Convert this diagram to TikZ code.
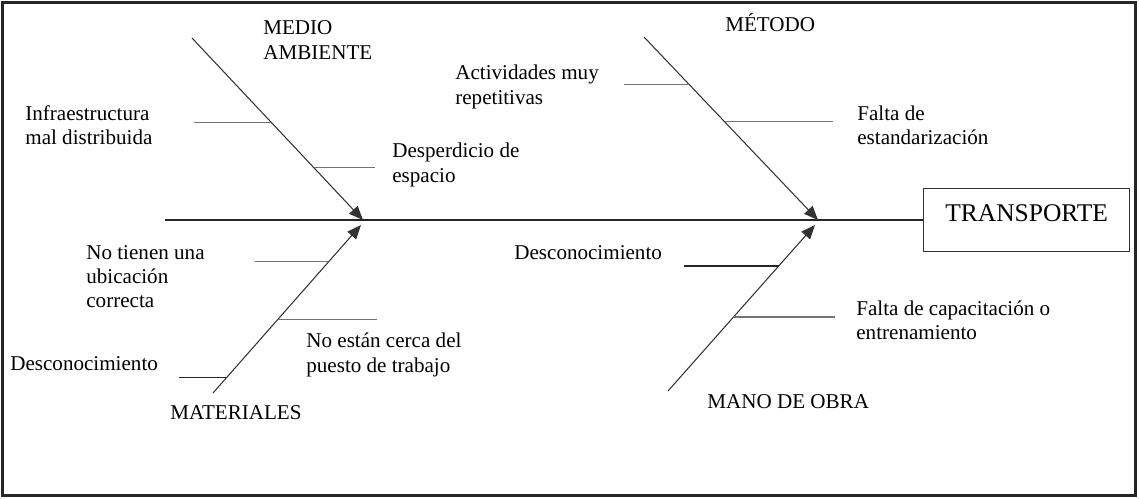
\documentclass[tikz,border=0pt]{standalone}
\usepackage{fontspec}
\setmainfont{Liberation Serif}
\usetikzlibrary{arrows.meta, positioning, calc}

\begin{document}
\begin{tikzpicture}[
    x=0.02cm, y=-0.02cm,
    font=\fontsize{12}{13.8}\selectfont,
    >={Triangle[length=8pt, width=6.5pt]},
    bone/.style={->, draw=black!80, line width=0.6pt},
    twig/.style={draw=black!55, line width=0.6pt},
    cause/.style={anchor=west, inner sep=0pt, align=left},
    category/.style={anchor=west, inner sep=0pt, align=left},
]
\useasboundingbox (0,0) rectangle (1139,498);

% 1. Frame and effect
\draw[line width=2pt, draw=black!85] (2.5,2.5) rectangle (1135.5,495.5);
\node[draw, draw=black!80, line width=0.8pt, inner sep=0pt, minimum width=4.12cm, minimum height=1.26cm,
      text depth=0.28cm, font=\fontsize{14.5}{16}\selectfont, anchor=west] (effect) at (923,220) {TRANSPORTE};

% 2. Spine
\coordinate (spine tail) at (165,220);
\coordinate (head left) at (363,220);
\coordinate (head right) at (818,220);
\draw[line width=0.6pt, draw=black!85] (spine tail) -- (effect.west);

% 3. Medio ambiente (upper left)
\coordinate (ma tail) at (192,38);
\draw[bone] (ma tail) -- (head left);
\node[category] (medio) at (263,40) {MEDIO\\AMBIENTE};
\coordinate (ma1) at ($(ma tail)!0.464!(head left)$);
\coordinate (ma1 end) at (194,122);
\draw[twig] (ma1) -- (ma1 -| ma1 end);
\node[cause] (infra) at (25,125.5) {Infraestructura\\mal distribuida};
\coordinate (ma2) at ($(ma tail)!0.713!(head left)$);
\coordinate (ma2 end) at (375,167);
\draw[twig] (ma2) -- (ma2 -| ma2 end);
\node[cause] (desp) at (392,165) {Desperdicio de\\espacio};

% 4. Materiales (lower left)
\coordinate (mt tail) at (213,393);
\coordinate (mt head) at (361,225);
\draw[bone] (mt tail) -- (mt head);
\node[category] (mater) at (170,413) {MATERIALES};
\coordinate (mt1) at ($(mt tail)!0.78!(mt head)$);
\coordinate (mt1 end) at (255,262);
\draw[twig] (mt1) -- (mt1 -| mt1 end);
\node[cause] (ubic) at (86,276.5) {No tienen una\\ubicación\\correcta};
\coordinate (mt2) at ($(mt tail)!0.44!(mt head)$);
\coordinate (mt2 end) at (377,319);
\draw[twig] (mt2) -- (mt2 -| mt2 end);
\node[cause] (cerca) at (306,355) {No están cerca del\\puesto de trabajo};
\coordinate (mt3) at ($(mt tail)!0.095!(mt head)$);
\coordinate (mt3 end) at (179,377);
\draw[twig, draw=black!85] (mt3) -- (mt3 -| mt3 end);
\node[cause] (desc1) at (10,364) {Desconocimiento};

% 5. Metodo (upper right)
\coordinate (me tail) at (644,37);
\draw[bone] (me tail) -- (head right);
\node[category] (metodo) at (725,23) {MÉTODO};
\coordinate (me1) at ($(me tail)!0.257!(head right)$);
\coordinate (me1 end) at (624,84);
\draw[twig] (me1) -- (me1 -| me1 end);
\node[cause] (activ) at (455,87) {Actividades muy\\repetitivas};
\coordinate (me2) at ($(me tail)!0.464!(head right)$);
\coordinate (me2 end) at (833,122);
\draw[twig] (me2) -- (me2 -| me2 end);
\node[cause] (estand) at (857,125.5) {Falta de\\estandarización};

% 6. Mano de obra (lower right)
\coordinate (mo tail) at (668,391);
\coordinate (mo head) at (815,225);
\draw[bone] (mo tail) -- (mo head);
\node[category] (mano) at (707,402) {MANO DE OBRA};
\coordinate (mo1) at ($(mo tail)!0.753!(mo head)$);
\coordinate (mo1 end) at (684,266);
\draw[twig, draw=black!85] (mo1) -- (mo1 -| mo1 end);
\node[cause] (desc2) at (514,253) {Desconocimiento};
\coordinate (mo2) at ($(mo tail)!0.446!(mo head)$);
\coordinate (mo2 end) at (835,317);
\draw[twig] (mo2) -- (mo2 -| mo2 end);
\node[cause] (capac) at (856,320) {Falta de capacitación o\\entrenamiento};

\end{tikzpicture}
\end{document}
